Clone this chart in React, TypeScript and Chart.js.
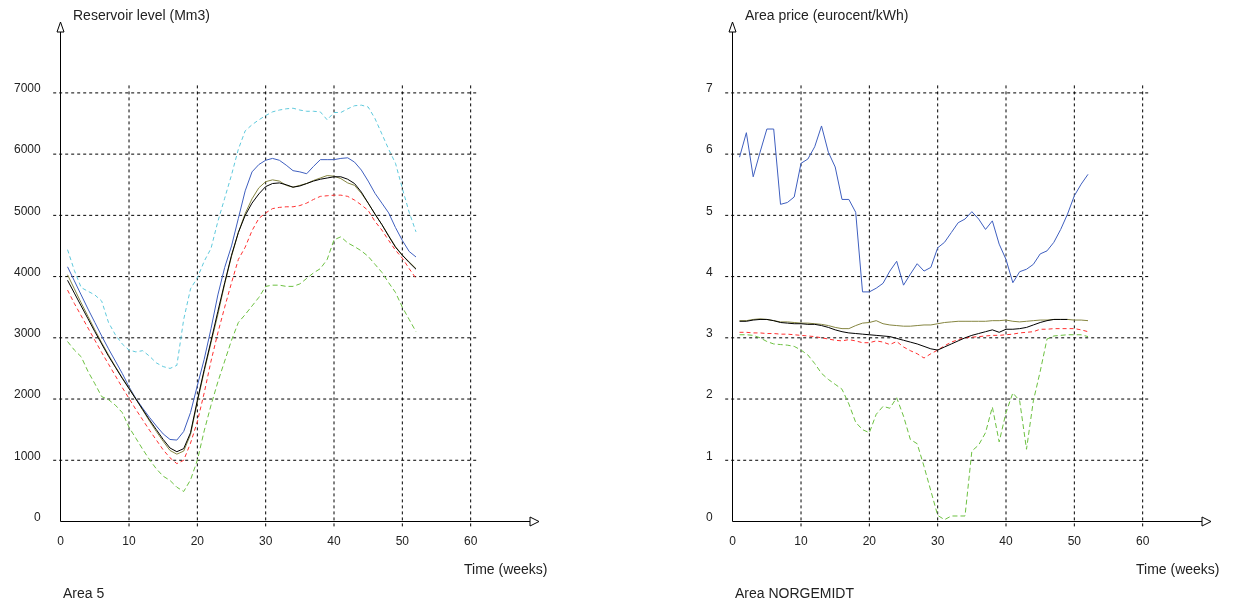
import React, { useEffect, useRef } from 'react';
import { Chart, registerables } from 'chart.js';

Chart.register(...registerables);

// ---------- data ----------
const weeks = [1, 2, 3, 4, 5, 6, 7, 8, 9, 10, 11, 12, 13, 14, 15, 16, 17, 18, 19, 20, 21, 22, 23, 24, 25, 26,
  27, 28, 29, 30, 31, 32, 33, 34, 35, 36, 37, 38, 39, 40, 41, 42, 43, 44, 45, 46, 47, 48, 49, 50, 51, 52];

const xTicks = [0, 10, 20, 30, 40, 50, 60];
const reservoirTicks = [0, 1000, 2000, 3000, 4000, 5000, 6000, 7000];
const priceTicks = [0, 1, 2, 3, 4, 5, 6, 7];

// Area 5 – reservoir level (Mm3)
const resCyan = [4440, 4100, 3820, 3760, 3700, 3600, 3250, 3050, 2900, 2800, 2770, 2790, 2700, 2590, 2530, 2500, 2550, 3300, 3800, 3980,
  4250, 4460, 4900, 5280, 5660, 6080, 6380, 6480, 6560, 6630, 6690, 6720, 6740, 6750, 6720, 6700, 6700, 6690, 6560, 6680,
  6680, 6740, 6790, 6800, 6770, 6580, 6330, 6080, 5850, 5440, 5050, 4730];
const resBlue = [4160, 3930, 3700, 3470, 3250, 3030, 2820, 2620, 2420, 2200, 2010, 1850, 1700, 1560, 1430, 1340, 1330, 1470, 1780, 2220,
  2650, 3150, 3700, 4150, 4500, 4950, 5400, 5710, 5830, 5900, 5930, 5900, 5820, 5730, 5710, 5680, 5800, 5910, 5910, 5910,
  5930, 5940, 5870, 5740, 5560, 5360, 5200, 5040, 4800, 4590, 4410, 4320];
const resOlive = [4030, 3800, 3570, 3350, 3130, 2920, 2720, 2530, 2350, 2180, 2000, 1820, 1640, 1470, 1310, 1160, 1100, 1150, 1420, 1950,
  2450, 2920, 3380, 3880, 4330, 4720, 5030, 5270, 5450, 5550, 5580, 5560, 5490, 5460, 5490, 5520, 5570, 5610, 5650, 5640,
  5600, 5530, 5490, 5360, 5200, 5020, 4850, 4670, 4490, 4350, 4240, 4130];
const resBlack = [3940, 3730, 3520, 3310, 3100, 2900, 2700, 2520, 2340, 2170, 2000, 1830, 1660, 1500, 1340, 1200, 1140, 1190, 1450, 1980,
  2480, 2950, 3430, 3900, 4350, 4720, 5000, 5200, 5350, 5470, 5520, 5530, 5500, 5460, 5480, 5520, 5560, 5590, 5610, 5630,
  5630, 5590, 5520, 5380, 5200, 5020, 4850, 4660, 4480, 4350, 4230, 4120];
const resRed = [3780, 3560, 3360, 3160, 2960, 2760, 2570, 2380, 2190, 2010, 1830, 1660, 1490, 1330, 1170, 1040, 945, 1000, 1280, 1630,
  2100, 2620, 3080, 3500, 3900, 4280, 4480, 4750, 4950, 5040, 5110, 5130, 5140, 5140, 5160, 5200, 5260, 5310, 5320, 5330,
  5330, 5310, 5250, 5170, 5080, 4900, 4760, 4590, 4430, 4300, 4130, 3970];
const resGreen = [2940, 2800, 2690, 2450, 2250, 2040, 1990, 1900, 1780, 1540, 1360, 1180, 1010, 860, 740, 670, 560, 490, 680, 1000,
  1480, 1900, 2280, 2620, 2960, 3250, 3380, 3520, 3660, 3840, 3860, 3860, 3840, 3840, 3880, 3970, 4060, 4130, 4280, 4600,
  4650, 4550, 4490, 4420, 4330, 4200, 4070, 3900, 3740, 3500, 3300, 3100];

// Area NORGEMIDT – area price (eurocent/kWh)
const priceBlue = [5.95, 6.35, 5.63, 6.03, 6.41, 6.41, 5.18, 5.21, 5.30, 5.85, 5.92, 6.12, 6.46, 6.03, 5.79, 5.26, 5.26, 5.05, 3.75, 3.75,
  3.81, 3.89, 4.09, 4.25, 3.86, 4.04, 4.21, 4.09, 4.15, 4.47, 4.56, 4.72, 4.88, 4.94, 5.06, 4.94, 4.77, 4.91, 4.53, 4.28,
  3.90, 4.08, 4.12, 4.20, 4.37, 4.42, 4.56, 4.77, 5.02, 5.32, 5.51, 5.67];
const priceOlive = [3.28, 3.28, 3.30, 3.31, 3.30, 3.28, 3.26, 3.26, 3.25, 3.24, 3.24, 3.23, 3.22, 3.20, 3.17, 3.15, 3.15, 3.20, 3.24, 3.25,
  3.28, 3.23, 3.21, 3.20, 3.19, 3.19, 3.20, 3.21, 3.21, 3.23, 3.25, 3.26, 3.27, 3.27, 3.27, 3.27, 3.27, 3.28, 3.28, 3.29,
  3.27, 3.26, 3.27, 3.28, 3.29, 3.29, 3.30, 3.30, 3.30, 3.29, 3.29, 3.28];
const priceBlack = [3.27, 3.27, 3.29, 3.30, 3.30, 3.28, 3.25, 3.24, 3.23, 3.23, 3.22, 3.22, 3.20, 3.17, 3.13, 3.10, 3.08, 3.07, 3.06, 3.05,
  3.04, 3.03, 3.02, 2.99, 2.96, 2.93, 2.90, 2.86, 2.82, 2.80, 2.85, 2.90, 2.95, 3.00, 3.04, 3.07, 3.10, 3.13, 3.09, 3.14,
  3.14, 3.15, 3.17, 3.21, 3.25, 3.28, 3.30, 3.30, 3.30];
const priceRed = [3.09, 3.09, 3.08, 3.08, 3.07, 3.07, 3.06, 3.06, 3.05, 3.04, 3.03, 3.02, 3.00, 2.98, 2.96, 2.95, 2.97, 2.95, 2.92, 2.92,
  2.95, 2.93, 2.89, 2.94, 2.85, 2.79, 2.74, 2.67, 2.74, 2.80, 2.87, 2.93, 2.97, 3.00, 3.01, 3.02, 3.03, 3.04, 3.04, 3.05,
  3.06, 3.08, 3.09, 3.10, 3.14, 3.14, 3.15, 3.15, 3.15, 3.15, 3.13, 3.10];
const priceGreen = [3.05, 3.05, 3.04, 3.00, 2.94, 2.90, 2.89, 2.88, 2.86, 2.80, 2.72, 2.58, 2.42, 2.32, 2.24, 2.16, 1.92, 1.62, 1.50, 1.45,
  1.75, 1.88, 1.85, 2.02, 1.72, 1.34, 1.27, 0.90, 0.50, 0.10, 0.03, 0.09, 0.09, 0.09, 1.15, 1.25, 1.45, 1.87, 1.30, 1.78,
  2.10, 1.97, 1.18, 1.97, 2.45, 2.98, 3.03, 3.04, 3.05, 3.05, 3.05, 3.02];

// ---------- styling ----------
const FONT = "'Liberation Sans', Arial, sans-serif";
const COL = {
  cyan: '#5fc9dc',
  blue: '#3f5fbf',
  olive: '#858540',
  black: '#000000',
  red: '#ff3030',
  green: '#6cc040',
};

type Series = { label: string; values: number[]; color: string; dash: number[] };

const reservoirSeries: Series[] = [
  { label: 'black', values: resBlack, color: COL.black, dash: [] },
  { label: 'olive', values: resOlive, color: COL.olive, dash: [] },
  { label: 'blue', values: resBlue, color: COL.blue, dash: [] },
  { label: 'red', values: resRed, color: COL.red, dash: [4, 3] },
  { label: 'green', values: resGreen, color: COL.green, dash: [5, 3] },
  { label: 'cyan', values: resCyan, color: COL.cyan, dash: [4, 3] },
];

const priceSeries: Series[] = [
  { label: 'black', values: priceBlack, color: COL.black, dash: [] },
  { label: 'olive', values: priceOlive, color: COL.olive, dash: [] },
  { label: 'blue', values: priceBlue, color: COL.blue, dash: [] },
  { label: 'red', values: priceRed, color: COL.red, dash: [4, 3] },
  { label: 'green', values: priceGreen, color: COL.green, dash: [5, 3] },
];

const framePlugin = {
  id: 'frame',
  beforeDatasetsDraw(chart: any, _args: any, opts: any) {
    const ctx = chart.ctx;
    const xs = chart.scales.x;
    const ys = chart.scales.y;
    const gx: number[] = opts.xGrid;
    const gy: number[] = opts.yGrid;
    const x0 = xs.getPixelForValue(0);
    const y0 = ys.getPixelForValue(0);
    const xR = xs.getPixelForValue(gx[gx.length - 1]) + 7.5;
    const yT = ys.getPixelForValue(gy[gy.length - 1]) - 7.5;
    ctx.save();
    ctx.strokeStyle = '#000';
    ctx.lineWidth = 1;
    ctx.setLineDash([3, 3]);
    ctx.beginPath();
    gy.forEach((v) => {
      if (v === 0) return;
      const y = ys.getPixelForValue(v);
      ctx.moveTo(x0 - 7.5, y);
      ctx.lineTo(xR, y);
    });
    gx.forEach((v) => {
      if (v === 0) return;
      const x = xs.getPixelForValue(v);
      ctx.moveTo(x, yT);
      ctx.lineTo(x, y0 + 7);
    });
    ctx.stroke();
    ctx.restore();
  },
  afterDatasetsDraw(chart: any, _args: any, opts: any) {
    const ctx = chart.ctx;
    const xs = chart.scales.x;
    const ys = chart.scales.y;
    const x0 = Math.floor(xs.getPixelForValue(0)) + 0.5;
    const y0 = Math.floor(ys.getPixelForValue(0)) + 0.5;
    const top = opts.arrowTop;
    const right = chart.chartArea.right;
    ctx.save();
    ctx.setLineDash([]);
    ctx.strokeStyle = '#000';
    ctx.lineWidth = 1;
    ctx.beginPath();
    ctx.moveTo(x0, y0);
    ctx.lineTo(x0, top + 10);
    ctx.moveTo(x0, y0);
    ctx.lineTo(right - 9, y0);
    ctx.stroke();
    ctx.fillStyle = '#fff';
    // y arrow
    ctx.beginPath();
    ctx.moveTo(x0, top);
    ctx.lineTo(x0 - 3.5, top + 10);
    ctx.lineTo(x0 + 3.5, top + 10);
    ctx.closePath();
    ctx.fill();
    ctx.stroke();
    // x arrow
    ctx.beginPath();
    ctx.moveTo(right, y0);
    ctx.lineTo(right - 9, y0 - 4.5);
    ctx.lineTo(right - 9, y0 + 4.5);
    ctx.closePath();
    ctx.fill();
    ctx.stroke();
    ctx.restore();
  },
};

type PanelProps = {
  left: number;
  title: string;
  area: string;
  series: Series[];
  yTicks: number[];
  yMax: number;
};

const textStyle: React.CSSProperties = {
  position: 'absolute',
  fontFamily: FONT,
  fontSize: 14,
  lineHeight: '16px',
  color: '#222',
  whiteSpace: 'nowrap',
};

function Panel({ left, title, area, series, yTicks, yMax }: PanelProps) {
  const ref = useRef<HTMLCanvasElement>(null);

  useEffect(() => {
    if (!ref.current) return;
    const datasets = series.map((s) => ({
      label: s.label,
      data: s.values.map((v, i) => ({ x: weeks[i], y: v })),
      borderColor: s.color,
      backgroundColor: s.color,
      borderWidth: 1,
      borderDash: s.dash,
      pointRadius: 0,
      tension: 0,
      fill: false,
    }));
    const tickFont = { family: FONT, size: 12 };
    const chart = new Chart(ref.current, {
      type: 'line',
      data: { datasets },
      plugins: [framePlugin],
      options: {
        responsive: false,
        animation: false,
        devicePixelRatio: 1,
        layout: { padding: { left: 0, top: 28, right: 21, bottom: 42.5 } },
        plugins: {
          legend: { display: false },
          tooltip: { enabled: false },
          frame: { xGrid: xTicks, yGrid: yTicks, arrowTop: 22 },
        } as any,
        scales: {
          x: {
            type: 'linear',
            min: 0,
            max: 70,
            afterBuildTicks: (s: any) => {
              s.ticks = xTicks.map((v) => ({ value: v }));
            },
            afterFit: (s: any) => {
              s.height = 40;
            },
            grid: { display: false, drawTicks: false },
            border: { display: false },
            ticks: {
              autoSkip: false,
              maxRotation: 0,
              padding: 13,
              color: '#222',
              font: tickFont,
              callback: (v: any) => String(v),
            },
          },
          y: {
            type: 'linear',
            min: 0,
            max: yMax,
            afterBuildTicks: (s: any) => {
              s.ticks = yTicks.map((v) => ({ value: v }));
            },
            afterFit: (s: any) => {
              s.width = 60.7;
            },
            grid: { display: false, drawTicks: false },
            border: { display: false },
            ticks: {
              autoSkip: false,
              padding: 20,
              labelOffset: -4,
              color: '#222',
              font: tickFont,
              callback: (v: any) => String(v),
            },
          },
        },
      } as any,
    });
    return () => chart.destroy();
  }, []);

  return (
    <div style={{ position: 'absolute', left, top: 0, width: 560, height: 604 }}>
      <canvas ref={ref} width={560} height={604} style={{ position: 'absolute', left: 0, top: 0 }} />
      <span style={{ ...textStyle, left: 73, top: 7 }}>{title}</span>
      <span style={{ ...textStyle, left: 464, top: 560.5 }}>Time (weeks)</span>
      <span style={{ ...textStyle, left: 63, top: 585 }}>{area}</span>
    </div>
  );
}

export default function App() {
  return (
    <div style={{ position: 'absolute', left: 0, top: 0, width: 1234, height: 604, background: '#fff', overflow: 'hidden' }}>
      <Panel left={0} title="Reservoir level (Mm3)" area="Area 5" series={reservoirSeries} yTicks={reservoirTicks} yMax={8060} />
      <Panel left={672} title="Area price (eurocent/kWh)" area="Area NORGEMIDT" series={priceSeries} yTicks={priceTicks} yMax={8.06} />
    </div>
  );
}
